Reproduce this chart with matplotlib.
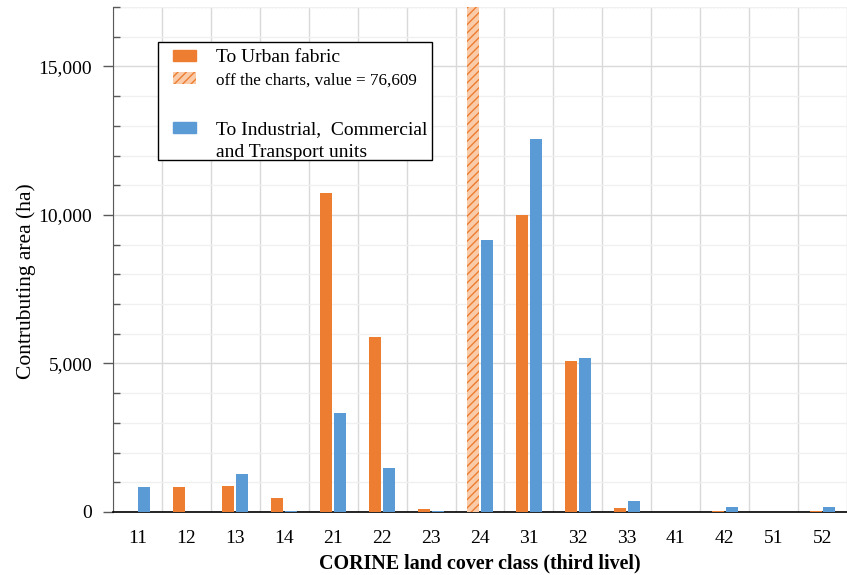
import numpy as np
import matplotlib.pyplot as plt
from matplotlib.patches import Patch, Rectangle
from matplotlib.ticker import MultipleLocator, FuncFormatter

classes = ['11', '12', '13', '14', '21', '22', '23', '24', '31', '32', '33', '41', '42', '51', '52']
urban = [0, 830, 880, 480, 10750, 5880, 90, 76609, 10000, 5090, 125, 0, 45, 0, 45]
industrial = [840, 0, 1280, 45, 3325, 1470, 45, 9170, 12560, 5190, 370, 0, 158, 0, 158]
off_chart = '24'

orange = '#ED7D31'
blue = '#5B9BD5'

plt.rcParams['font.family'] = ['Liberation Serif', 'DejaVu Serif']

fig = plt.figure(figsize=(8.47, 5.75), dpi=100)
ax = fig.add_axes([0.1334, 0.1096, 0.8666, 0.8782])

x = np.arange(len(classes))
w = 0.245
off = 0.142
urban_plain = [0 if c == off_chart else v for c, v in zip(classes, urban)]
ax.bar(x - off, urban_plain, w, color=orange, zorder=3)
i24 = classes.index(off_chart)
ax.bar(x[i24] - off, urban[i24], w, facecolor='#F9CBA8', edgecolor=orange,
       hatch='////', linewidth=0, zorder=3)
ax.bar(x + off, industrial, w, color=blue, zorder=3)

ax.set_xlim(-0.5, 14.39)
ax.set_ylim(0, 17000)
ax.yaxis.set_major_locator(MultipleLocator(5000))
ax.yaxis.set_minor_locator(MultipleLocator(1000))
ax.yaxis.set_major_formatter(FuncFormatter(lambda v, p: f'{int(v):,}'))
ax.set_xticks(x)
ax.set_xticklabels(classes)
ax.set_xticks(np.arange(-0.5, 15, 1), minor=True)
ax.tick_params(axis='x', which='both', length=0, pad=13, labelsize=14)
ax.tick_params(axis='y', which='major', length=7, width=1, color='#595959', labelsize=14, pad=8)
ax.tick_params(axis='y', which='minor', length=5, width=1, color='#595959', direction='in')

ax.grid(which='minor', axis='x', color='#d9d9d9', lw=1, zorder=0)
ax.grid(which='major', axis='y', color='#d9d9d9', lw=1, zorder=0)
ax.grid(which='minor', axis='y', color='#f0f0f0', lw=1, zorder=0)
ax.axhline(17000, color='#d9d9d9', lw=1, ls=':', zorder=0)

for s in ['top', 'right']:
    ax.spines[s].set_visible(False)
ax.spines['left'].set_color('#595959')
ax.spines['bottom'].set_color('black')
ax.spines['bottom'].set_linewidth(1.2)

ax.set_ylabel('Contrubuting area (ha)', fontsize=15.5)
ax.yaxis.set_label_coords(-0.105, 0.457)
ax.set_xlabel('CORINE land cover class (third livel)', fontsize=14.4, fontweight='bold', labelpad=5)

# legend box drawn separately so its padding can differ from the entries
ax.add_patch(Rectangle((0.0613, 0.697), 0.3733, 0.2337, transform=ax.transAxes,
                       facecolor='white', edgecolor='black', lw=1, zorder=4))

blank = Patch(visible=False)
handles = [Patch(color=orange),
           Patch(facecolor='#F9CBA8', edgecolor=orange, hatch='////', linewidth=0),
           blank, Patch(color=blue), blank]
labels = ['To Urban fabric', 'off the charts, value = 76,609', ' ',
          'To Industrial,  Commercial', 'and Transport units']
leg = ax.legend(handles, labels, loc='upper left', bbox_to_anchor=(0.0817, 0.916),
                fontsize=14, frameon=False, labelspacing=0.28, handlelength=1.2,
                handleheight=0.55, handletextpad=1.0, borderpad=0, borderaxespad=0)
leg.set_zorder(5)
leg.get_texts()[1].set_fontsize(12.3)
leg.get_texts()[2].set_fontsize(18)

fig.savefig('out.png', dpi=100)
